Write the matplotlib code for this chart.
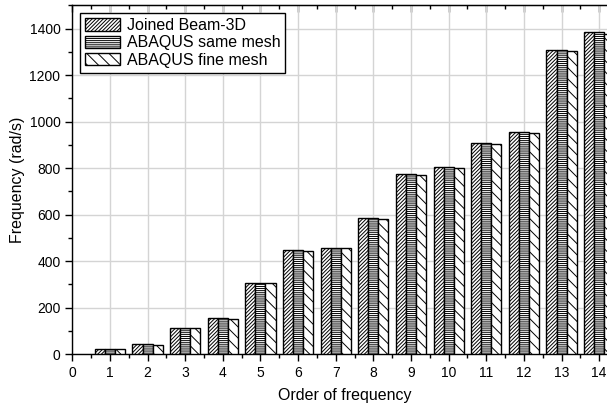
import numpy as np
import matplotlib.pyplot as plt
from matplotlib.ticker import MultipleLocator

plt.rcParams['font.family'] = ['Liberation Sans', 'DejaVu Sans']
plt.rcParams['hatch.linewidth'] = 0.7

orders = np.arange(1, 15)
joined = [22, 43, 112, 155, 308, 447, 459, 584, 774, 803, 910, 957, 1309, 1385]
abaqus_same = [22, 43, 112, 155, 308, 447, 459, 584, 774, 803, 910, 957, 1309, 1385]
abaqus_fine = [21, 42, 111, 152, 306, 444, 455, 580, 770, 799, 906, 953, 1302, 1378]

fig = plt.figure(figsize=(6.07, 4.05), dpi=100)
# right side of the axes runs past the edge, as in the original crop
ax = fig.add_axes([0.1191, 0.1252, 0.899, 0.8617])

w = 0.267
ax.bar(orders - w, joined, w, color='white', edgecolor='black', lw=1,
       hatch='/' * 9, label='Joined Beam-3D', zorder=3)
ax.bar(orders, abaqus_same, w, color='white', edgecolor='black', lw=1,
       hatch='-' * 8, label='ABAQUS same mesh', zorder=3)
ax.bar(orders + w, abaqus_fine, w, color='white', edgecolor='black', lw=1,
       hatch='\\' * 3, label='ABAQUS fine mesh', zorder=3)

ax.set_xlim(0, 14.5)
ax.set_ylim(0, 1500)
ax.xaxis.set_major_locator(MultipleLocator(1))
ax.xaxis.set_minor_locator(MultipleLocator(0.5))
ax.yaxis.set_major_locator(MultipleLocator(200))
ax.yaxis.set_minor_locator(MultipleLocator(100))
ax.tick_params(which='both', direction='out', labelsize=10, width=1)
ax.tick_params(which='major', length=5)
ax.tick_params(which='minor', length=3)
ax.grid(True, which='major', color='#d4d4d4', lw=1, zorder=0)
ax.set_axisbelow(True)
for s in ax.spines.values():
    s.set_linewidth(1)

top = ax.secondary_xaxis('top')
top.xaxis.set_major_locator(MultipleLocator(1))
top.xaxis.set_minor_locator(MultipleLocator(0.5))
top.tick_params(which='both', direction='in', labeltop=False, width=1)
top.tick_params(which='major', length=5)
top.tick_params(which='minor', length=3)

ax.set_xlabel('Order of frequency', fontsize=11.5, labelpad=6)
ax.set_ylabel('Frequency (rad/s)', fontsize=11.5, labelpad=3)

leg = ax.legend(loc='upper left', fontsize=11.5, fancybox=False, edgecolor='black',
                framealpha=1, handlelength=2.2, handleheight=0.8,
                labelspacing=0.15, borderpad=0.3, handletextpad=0.4,
                borderaxespad=0.5)
leg.get_frame().set_linewidth(1)

fig.savefig('out.png', dpi=100)
